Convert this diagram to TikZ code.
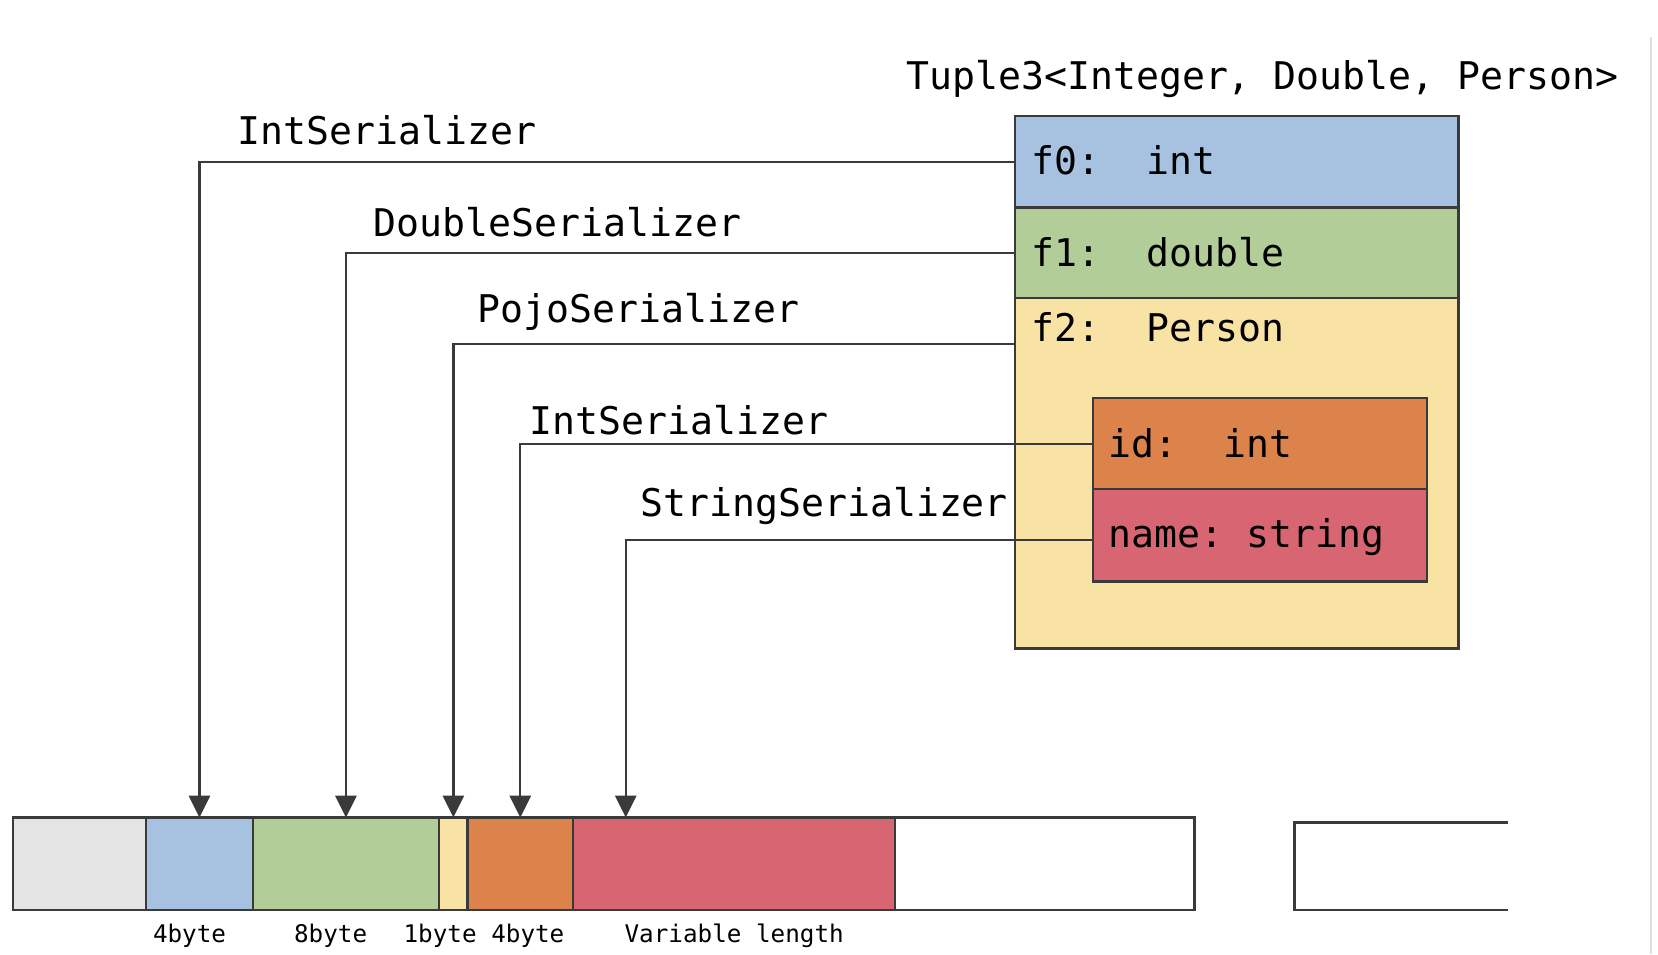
\documentclass[tikz,border=0pt]{standalone}
\usepackage{fontspec}
\newfontfamily\codefont{DejaVu Sans Mono}
\usetikzlibrary{positioning,arrows.meta}
\definecolor{cgrey}{HTML}{E4E4E4}
\definecolor{cblue}{HTML}{A6C2E0}
\definecolor{cgreen}{HTML}{B2CD98}
\definecolor{cyellow}{HTML}{F8E3A4}
\definecolor{corange}{HTML}{DC824B}
\definecolor{cred}{HTML}{D86672}
\definecolor{cline}{HTML}{3A3A3A}
\tikzset{
  cell/.style={draw=cline, line width=0.7pt, inner sep=0pt, outer sep=0pt, anchor=north west},
  seg/.style={cell, minimum height=0.925cm},
  bigtxt/.style={font=\codefont\fontsize{10.85}{13}\selectfont, inner sep=0pt, anchor=base west},
  sizetxt/.style={font=\codefont\fontsize{6.9}{8}\selectfont, inner sep=0pt, anchor=base west},
  wire/.style={draw=cline, line width=0.65pt, -{Triangle[width=6pt,length=6.2pt]}}
}
\begin{document}
\begin{tikzpicture}[x=0.01cm, y=-0.01cm]
\useasboundingbox (0,0) rectangle (1658,954);
% screenshot edge
\draw[black!12, line width=0.5pt] (1651,37) -- (1651,954);

% the tuple
\node[bigtxt] (title) at (905.7,89.4) {Tuple3<Integer, Double, Person>};
\node[cell, fill=cblue, minimum width=4.43cm, minimum height=0.915cm] (f0) at (1015,116) {};
\node[cell, fill=cgreen, minimum width=4.43cm, minimum height=0.905cm, below=0pt of f0] (f1) {};
\node[cell, fill=cyellow, minimum width=4.43cm, minimum height=3.5cm, below=0pt of f1] (f2) {};
\node[cell, fill=corange, minimum width=3.34cm, minimum height=0.91cm, below right=1cm and 0.78cm of f2.north west] (idf) {};
\node[cell, fill=cred, minimum width=3.34cm, minimum height=0.92cm, below=0pt of idf] (nm) {};
\path (f2.north west) ++(0,45.7) coordinate (f2pin);
\path (nm.west) ++(0,4.7) coordinate (nmpin);

\node[bigtxt] (f0t) at (1031,174) {f0:\ \ int};
\node[bigtxt] (f1t) at (1031,266) {f1:\ \ double};
\node[bigtxt] (f2t) at (1031,341) {f2:\ \ Person};
\node[bigtxt] (idt) at (1108,457.7) {id:\ \ int};
\node[bigtxt] (nmt) at (1108,547.7) {name:\ string};

% the bytes
\node[seg, fill=cgrey, minimum width=1.328cm] (hdr) at (13.2,817.5) {};
\node[seg, fill=cblue, minimum width=1.067cm, right=0pt of hdr] (b0) {};
\node[seg, fill=cgreen, minimum width=1.861cm, right=0pt of b0] (b1) {};
\node[seg, fill=cyellow, minimum width=0.286cm, right=0pt of b1] (b2) {};
\node[seg, fill=corange, minimum width=1.052cm, right=0pt of b2] (b3) {};
\node[seg, fill=cred, minimum width=3.22cm, right=0pt of b3] (b4) {};
\node[seg, fill=white, minimum width=2.992cm, right=0pt of b4] (rest) {};
\draw[cline, line width=0.7pt] (1508.4,822.3) -- (1294.3,822.3) -- (1294.3,910) -- (1508.4,910);
\path (b4.north west) ++(52.8,0) coordinate (strin);

\node[sizetxt] at (152.3,942) {4byte};
\node[sizetxt] at (293.4,942) {8byte};
\node[sizetxt] at (402.9,942) {1byte};
\node[sizetxt] at (490.6,942) {4byte};
\node[sizetxt] at (623.9,942) {Variable length};

% serializers
\draw[wire] (f0.west) -| (b0.north);
\draw[wire] (f1.west) -| (b1.north);
\draw[wire] (f2pin) -| (b2.north);
\draw[wire] (idf.west) -| (b3.north);
\draw[wire] (nmpin) -| (strin);
\node[bigtxt] (s0) at (237,144) {IntSerializer};
\node[bigtxt] (s1) at (373,236) {DoubleSerializer};
\node[bigtxt] (s2) at (477,322) {PojoSerializer};
\node[bigtxt] (s3) at (528.7,434.5) {IntSerializer};
\node[bigtxt] (s4) at (639.7,516.4) {StringSerializer};
\end{tikzpicture}
\end{document}
